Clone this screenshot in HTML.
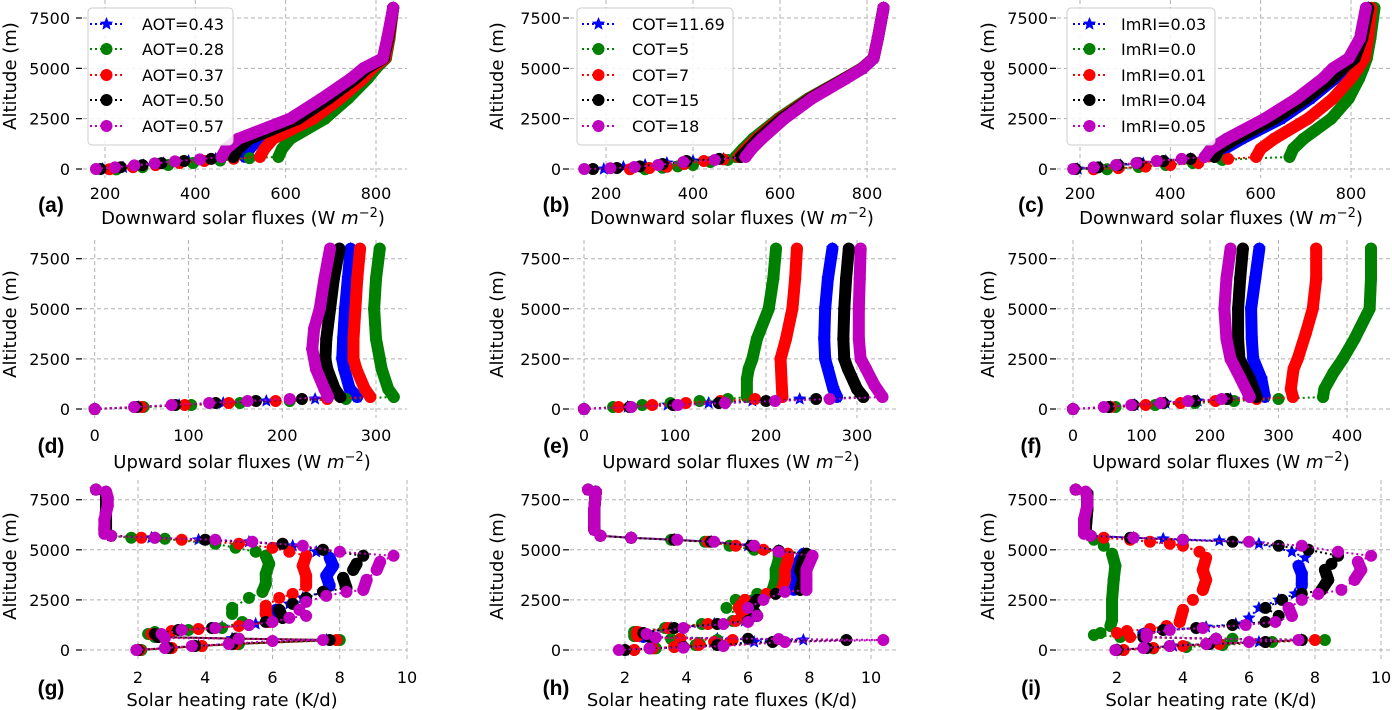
<!DOCTYPE html>
<html><head><meta charset="utf-8">
<style>
html,body{margin:0;padding:0;background:#fff;}
svg{display:block;font-family:"DejaVu Sans","Liberation Sans",sans-serif;}
</style></head>
<body>
<svg id="fig" width="1392" height="710" viewBox="0 0 1392 710" xmlns="http://www.w3.org/2000/svg"></svg>
<script>
// ---------- data (x value, altitude m) ----------
const legendA = ['AOT=0.43','AOT=0.28','AOT=0.37','AOT=0.50','AOT=0.57'];
const legendB = ['COT=11.69','COT=5','COT=7','COT=15','COT=18'];
const legendC = ['ImRI=0.03','ImRI=0.0','ImRI=0.01','ImRI=0.04','ImRI=0.05'];
const fluxTicks = [200,400,600,800];
const upTicksDE = [0,100,200,300];
const upTicksF = [0,100,200,300,400];
const heatTicks = [2,4,6,8,10];
const altTicks = [0,2500,5000,7500];

const a_blue=[[195,0],[240,80],[285,190],[330,290],[385,400],[445,500],[510,600],[520,1000],[540,1500],[643,2500],[705,3500],[762,4500],[785,5000],[818,5500],[828,6500],[838,8000]];
const a_green=[[225,-20],[283,90],[340,200],[395,300],[455,420],[520,540],[584,600],[592,1000],[610,1500],[687,2500],[738,3500],[782,4500],[800,5000],[822,5500],[830,6500],[838,8000]];
const a_red=[[210,-10],[262,90],[312,190],[365,300],[420,400],[485,510],[543,600],[553,1000],[572,1500],[661,2500],[720,3500],[772,4500],[792,5000],[820,5500],[829,6500],[838,8000]];
const a_black=[[190,0],[235,90],[283,190],[325,290],[375,400],[435,500],[484,600],[495,1000],[520,1500],[628,2500],[695,3500],[755,4500],[780,5000],[817,5500],[827,6500],[838,8000]];
const a_mag=[[180,0],[222,80],[265,180],[310,280],[355,380],[410,480],[458,600],[468,1000],[495,1500],[610,2500],[680,3500],[745,4500],[772,5000],[815,5500],[825,6500],[838,8000]];

const b_blue=[[195,0],[240,100],[290,200],[340,300],[400,400],[470,500],[505,600],[525,1000],[548,1500],[603,2500],[670,3500],[750,4500],[790,5000],[815,5500],[825,6500],[838,8000]];
const b_green=[[290,-10],[330,60],[365,130],[400,200],[440,350],[480,450],[498,600],[515,1000],[538,1500],[596,2500],[665,3500],[748,4500],[788,5000],[815,5500],[825,6500],[838,8000]];
const b_red=[[255,-10],[300,50],[340,110],[380,250],[425,400],[470,480],[505,600],[522,1000],[545,1500],[600,2500],[668,3500],[749,4500],[789,5000],[815,5500],[825,6500],[838,8000]];
const b_black=[[170,0],[225,50],[278,130],[330,250],[385,400],[460,500],[510,600],[528,1000],[550,1500],[604,2500],[670,3500],[750,4500],[790,5000],[815,5500],[825,6500],[838,8000]];
const b_mag=[[150,0],[210,40],[265,100],[320,200],[378,350],[450,450],[521,600],[535,1000],[558,1500],[610,2500],[673,3500],[752,4500],[790,5000],[815,5500],[825,6500],[838,8000]];

const c_blue=[[195,0],[245,80],[290,190],[340,290],[390,400],[445,500],[512,600],[520,1000],[558,1500],[645,2500],[710,3500],[765,4500],[785,5000],[810,5500],[827,6500],[838,8000]];
const c_green=[[190,0],[260,-10],[330,100],[390,200],[450,300],[515,450],[664,600],[672,1000],[695,1500],[756,2500],[795,3500],[818,4500],[827,5000],[835,5500],[843,6500],[852,8000]];
const c_red=[[230,-10],[285,40],[345,120],[400,200],[462,300],[528,500],[590,600],[600,1000],[630,1500],[705,2500],[760,3500],[800,4500],[816,5000],[830,5500],[838,6500],[845,8000]];
const c_black=[[190,0],[240,80],[285,190],[330,290],[385,400],[445,500],[498,600],[508,1000],[545,1500],[631,2500],[700,3500],[758,4500],[782,5000],[808,5500],[825,6500],[838,8000]];
const c_mag=[[185,0],[230,80],[280,200],[325,300],[370,400],[425,500],[476,600],[490,1000],[525,1500],[609,2500],[680,3500],[738,4500],[760,5000],[795,5500],[820,6500],[833,8000]];

const d_blue=[[0,0],[47,100],[90,200],[137,300],[183,400],[235,500],[280,600],[272,1000],[266,2000],[264,2500],[265,3500],[267,5000],[270,6500],[273,8000]];
const d_green=[[0,0],[52,100],[103,200],[155,300],[208,400],[268,500],[319,600],[313,1000],[306,2000],[304,2500],[300,3500],[298,5000],[300,6500],[304,8000]];
const d_red=[[0,0],[50,100],[96,200],[143,300],[193,400],[248,500],[294,600],[288,1000],[279,2000],[276,2500],[276,3500],[278,5000],[280,6500],[283,8000]];
const d_black=[[0,0],[45,100],[86,200],[129,300],[172,400],[221,500],[262,600],[256,1000],[248,2000],[246,2500],[247,3500],[251,5000],[255,6500],[261,8000]];
const d_mag=[[0,0],[42,100],[82,200],[122,300],[163,400],[208,500],[249,600],[245,1000],[236,2000],[232,3000],[234,4000],[240,5000],[245,6500],[251,8000]];

const e_blue=[[0,0],[48,100],[92,200],[137,300],[185,400],[237,500],[278,600],[274,1000],[268,2000],[265,2500],[264,3500],[265,5000],[268,6500],[273,8000]];
const e_green=[[0,0],[32,100],[64,200],[95,300],[127,400],[158,500],[179,600],[179,1500],[181,2000],[185,2500],[190,3500],[203,5000],[208,6500],[211,8000]];
const e_red=[[0,0],[38,100],[75,200],[112,300],[150,400],[188,500],[218,600],[217,1500],[216,2500],[222,3500],[229,5000],[232,6500],[234,8000]];
const e_black=[[0,0],[50,100],[98,200],[148,300],[200,400],[255,500],[307,600],[300,1000],[290,2000],[286,2500],[285,3500],[286,5000],[288,6500],[291,8000]];
const e_mag=[[0,0],[52,100],[103,200],[155,300],[210,400],[270,500],[328,600],[319,1200],[310,2000],[304,2500],[302,3500],[302,5000],[303,6500],[304,8000]];

const f_blue=[[0,0],[55,100],[90,200],[135,300],[182,400],[230,500],[280,600],[275,1500],[263,2500],[261,3500],[260,5000],[266,6500],[272,8000]];
const f_green=[[0,0],[62,100],[120,200],[178,300],[235,400],[300,500],[365,600],[367,1000],[380,1800],[394,2500],[411,3500],[433,5000],[435,6500],[435,8000]];
const f_red=[[0,0],[55,100],[106,200],[157,300],[208,400],[268,500],[321,600],[318,1000],[322,2000],[328,2500],[340,3800],[350,5000],[355,6500],[355,8000]];
const f_black=[[0,0],[52,100],[88,200],[132,300],[178,400],[225,500],[268,600],[258,1500],[243,2500],[241,3500],[241,5000],[244,6500],[248,8000]];
const f_mag=[[0,0],[45,100],[85,200],[128,300],[168,400],[217,500],[258,600],[245,1500],[230,2500],[224,3500],[221,5000],[224,6500],[230,8000]];

const g_blue=[[2.0,0],[2.9,100],[3.8,200],[4.8,300],[7.6,500],[4.8,570],[2.6,650],[2.5,800],[3.3,1000],[4.5,1150],[5.5,1300],[6.0,1600],[6.1,2000],[6.5,2300],[6.9,2600],[7.5,2900],[7.7,3200],[7.6,3700],[7.8,4200],[7.7,4600],[7.3,4900],[6.6,5200],[5.3,5400],[3.8,5500],[2.4,5600],[1.2,5700],[1.0,6000],[1.05,7000],[1.05,7800],[0.75,8000]];
const g_green=[[2.1,0],[3.0,100],[3.9,200],[5.0,300],[8.0,500],[5.0,570],[2.5,650],[2.3,800],[2.5,900],[3.5,1000],[4.5,1100],[5.1,1400],[4.8,1800],[4.8,2100],[5.3,2600],[5.7,2900],[5.8,3300],[5.8,3800],[5.9,4300],[5.8,4700],[5.5,4900],[4.9,5100],[4.3,5300],[2.8,5550],[1.8,5600],[1.2,5700],[1.0,6000],[1.05,7000],[1.05,7800],[0.75,8000]];
const g_red=[[2.05,0],[3.0,100],[3.9,200],[4.9,300],[7.9,500],[4.9,570],[2.6,650],[2.4,800],[3.0,950],[3.8,1050],[5.0,1200],[5.9,1400],[5.8,1800],[5.8,2200],[6.2,2600],[6.6,2800],[7.0,3200],[7.0,3700],[6.9,4200],[7.0,4700],[6.5,4900],[6.0,5100],[5.0,5300],[3.3,5500],[2.1,5600],[1.2,5700],[1.0,6000],[1.05,7000],[1.05,7800],[0.75,8000]];
const g_black=[[2.0,0],[2.9,100],[3.7,200],[4.8,300],[7.7,500],[4.9,570],[2.6,650],[2.5,800],[3.2,1000],[4.2,1100],[5.3,1250],[5.8,1400],[6.3,1600],[6.2,2000],[6.6,2300],[7.0,2600],[7.5,2900],[8.2,3100],[8.1,3600],[8.4,4000],[8.5,4300],[8.7,4700],[7.5,5000],[6.3,5300],[4.0,5500],[2.5,5600],[1.2,5700],[1.05,6000],[1.05,7000],[1.05,7800],[0.75,8000]];
const g_mag=[[1.95,0],[2.8,100],[3.6,200],[4.7,300],[6.0,450],[7.5,500],[5.0,560],[2.8,600],[2.7,800],[3.3,1000],[4.3,1100],[5.3,1250],[6.0,1400],[6.5,1600],[7.0,1700],[6.8,2000],[7.0,2400],[7.6,2700],[8.2,2900],[8.7,3000],[8.8,3500],[9.1,4000],[9.2,4400],[9.6,4700],[8.0,4900],[6.9,5200],[5.4,5400],[4.3,5500],[2.5,5600],[1.2,5700],[1.0,5800],[1.0,6500],[1.1,7200],[1.1,7600],[1.05,7900],[0.75,8000]];

const h_blue=[[2.0,0],[2.9,80],[3.9,150],[5.0,250],[6.2,400],[7.8,500],[5.0,560],[2.6,650],[2.5,850],[3.5,1100],[4.9,1300],[5.9,1450],[6.2,1700],[6.0,2100],[6.2,2500],[6.8,2800],[7.5,3000],[7.6,3500],[7.5,4000],[7.7,4500],[7.8,4800],[7.0,4950],[6.0,5200],[4.8,5400],[3.6,5500],[2.2,5600],[1.2,5700],[1.0,6000],[1.0,7000],[1.05,7900],[0.8,8000]];
const h_green=[[2.3,0],[3.0,80],[3.6,150],[4.3,250],[4.4,350],[5.0,500],[3.5,550],[2.3,700],[2.3,900],[3.3,1100],[4.5,1300],[5.5,1450],[5.8,1600],[5.3,2100],[5.6,2500],[6.3,2800],[6.8,3000],[6.9,3500],[6.9,4000],[7.0,4500],[7.0,4800],[6.2,5000],[5.4,5200],[4.6,5400],[3.5,5500],[2.2,5600],[1.2,5700],[1.0,6000],[1.0,7000],[1.05,7900],[0.8,8000]];
const h_red=[[2.3,0],[2.9,80],[3.6,150],[4.4,250],[4.9,400],[5.5,500],[3.8,560],[2.4,700],[2.4,900],[3.4,1100],[4.7,1300],[5.6,1450],[5.9,1700],[5.7,2100],[5.9,2500],[6.6,2800],[7.1,3000],[7.2,3500],[7.2,4000],[7.3,4500],[7.3,4800],[6.5,5000],[5.6,5200],[4.7,5400],[3.6,5500],[2.2,5600],[1.2,5700],[1.0,6000],[1.0,7000],[1.05,7900],[0.8,8000]];
const h_black=[[2.0,0],[2.8,80],[3.9,150],[5.0,250],[6.8,400],[9.2,500],[6.0,560],[2.8,650],[2.6,850],[3.6,1100],[5.0,1300],[6.0,1450],[6.3,1700],[6.1,2100],[6.3,2500],[6.9,2800],[7.7,3000],[7.8,3500],[7.7,4000],[7.8,4500],[7.9,4800],[7.0,4950],[6.1,5200],[4.8,5400],[3.6,5500],[2.2,5600],[1.2,5700],[1.0,6000],[1.0,7000],[1.05,7900],[0.8,8000]];
const h_mag=[[1.8,0],[2.8,80],[3.9,120],[5.2,200],[7.2,400],[10.4,500],[7.0,550],[3.0,620],[2.7,800],[3.9,1100],[5.2,1300],[6.0,1400],[6.3,1700],[6.0,2100],[6.5,2500],[7.2,2900],[7.9,3000],[7.9,3500],[7.9,4000],[8.1,4700],[7.0,4900],[6.2,5200],[4.9,5400],[3.7,5500],[2.2,5600],[1.2,5700],[1.0,6000],[1.0,7000],[1.05,7900],[0.8,8000]];

const i_blue=[[2.0,0],[2.9,100],[3.7,200],[4.8,300],[6.3,400],[7.6,500],[5.0,560],[2.8,650],[2.8,800],[3.6,1000],[4.7,1150],[5.6,1300],[6.0,1600],[6.3,2100],[6.9,2500],[7.4,2800],[7.6,3200],[7.6,3800],[7.5,4200],[7.7,4600],[7.3,4900],[6.3,5300],[5.1,5450],[3.4,5550],[2.5,5600],[1.2,5700],[1.05,6000],[1.1,7000],[1.1,7800],[0.75,8000]];
const i_green=[[2.2,0],[3.1,80],[4.1,150],[5.2,250],[6.7,400],[8.3,500],[5.5,560],[2.1,650],[1.3,750],[1.5,850],[1.8,1200],[1.85,1500],[1.85,2500],[1.9,3500],[1.95,4200],[1.85,4800],[1.6,5200],[1.3,5500],[1.2,5700],[1.05,6000],[1.1,7000],[1.1,7800],[0.75,8000]];
const i_red=[[2.2,0],[3.1,100],[4.0,200],[5.1,300],[6.5,400],[8.0,500],[5.0,560],[2.4,650],[2.0,850],[2.3,950],[3.0,1050],[3.5,1200],[3.9,1400],[4.0,2000],[4.3,2500],[4.6,3000],[4.7,3500],[4.6,4000],[4.7,4600],[4.5,4900],[4.0,5200],[3.6,5300],[3.0,5400],[2.4,5500],[1.6,5600],[1.2,5700],[1.05,6000],[1.1,7000],[1.1,7800],[0.75,8000]];
const i_black=[[2.0,0],[2.9,100],[3.6,200],[4.8,300],[6.5,400],[7.6,500],[5.0,560],[2.8,650],[2.9,800],[3.4,1000],[4.4,1100],[5.5,1250],[6.5,1400],[6.9,1700],[6.5,2100],[7.0,2500],[7.6,2800],[8.2,3000],[8.4,3500],[8.3,4000],[8.5,4300],[8.7,4700],[7.8,5000],[6.9,5200],[5.5,5400],[4.0,5500],[2.4,5600],[1.2,5700],[1.05,6000],[1.1,7000],[1.1,7800],[0.75,8000]];
const i_mag=[[1.95,0],[2.8,100],[3.6,200],[4.7,300],[6.0,400],[7.5,500],[5.0,560],[2.9,650],[2.9,800],[3.6,1000],[4.6,1100],[5.9,1250],[6.8,1400],[7.3,1700],[7.2,2100],[7.6,2500],[8.1,2800],[8.8,3000],[9.2,3500],[9.4,4000],[9.3,4400],[9.7,4700],[8.7,4900],[7.6,5200],[6.0,5400],[4.0,5500],[2.5,5600],[1.2,5700],[1.0,5800],[1.0,6500],[1.1,7200],[1.1,7600],[1.05,7900],[0.75,8000]];

// ---------- layout ----------
const colors=['#0000ff','#008000','#ff0000','#000000','#bf00bf'];
const seriesNames=['blue','green','red','black','magenta'];
const rows=[{y0:169,y7500:18,top:0,bot:178,tickY:193,labY:218,letY:205,ylabY:76},
            {y0:409,y7500:258.7,top:240,bot:418,tickY:435,labY:462,letY:446,ylabY:324},
            {y0:650,y7500:499.7,top:480,bot:660,tickY:677,labY:700,letY:688,ylabY:566}];
const cols=[{left:83,right:407,tickR:70,letX:51,ylabX:10},
            {left:570,right:897,tickR:561,letX:556,ylabX:497},
            {left:1057,right:1392,tickR:1048,letX:1031,ylabX:988}];
const panels=[
 {id:'a',r:0,c:0,v0:200,p0:105,v1:800,p1:376,ticks:fluxTicks,label:'Downward solar fluxes',unit:true,labX:243,series:[a_blue,a_green,a_red,a_black,a_mag],legend:legendA,kind:'flux'},
 {id:'b',r:0,c:1,v0:200,p0:606,v1:800,p1:867,ticks:fluxTicks,label:'Downward solar fluxes',unit:true,labX:732,series:[b_blue,b_green,b_red,b_black,b_mag],legend:legendB,kind:'flux'},
 {id:'c',r:0,c:2,v0:200,p0:1080,v1:800,p1:1351,ticks:fluxTicks,label:'Downward solar fluxes',unit:true,labX:1221,series:[c_blue,c_green,c_red,c_black,c_mag],legend:legendC,kind:'flux'},
 {id:'d',r:1,c:0,v0:0,p0:94.7,v1:300,p1:376,ticks:upTicksDE,label:'Upward solar fluxes',unit:true,labX:242,series:[d_blue,d_green,d_red,d_black,d_mag],kind:'flux'},
 {id:'e',r:1,c:1,v0:0,p0:584,v1:300,p1:857,ticks:upTicksDE,label:'Upward solar fluxes',unit:true,labX:731,series:[e_blue,e_green,e_red,e_black,e_mag],kind:'flux'},
 {id:'f',r:1,c:2,v0:0,p0:1073,v1:400,p1:1347,ticks:upTicksF,label:'Upward solar fluxes',unit:true,labX:1221,series:[f_blue,f_green,f_red,f_black,f_mag],kind:'flux'},
 {id:'g',r:2,c:0,v0:2,p0:138,v1:10,p1:407,ticks:heatTicks,label:'Solar heating rate (K/d)',unit:false,labX:232,series:[g_blue,g_green,g_red,g_black,g_mag],kind:'heat'},
 {id:'h',r:2,c:1,v0:2,p0:625,v1:10,p1:871,ticks:heatTicks,label:'Solar heating rate fluxes (K/d)',unit:false,labX:722,series:[h_blue,h_green,h_red,h_black,h_mag],kind:'heat'},
 {id:'i',r:2,c:2,v0:2,p0:1117,v1:10,p1:1381,ticks:heatTicks,label:'Solar heating rate (K/d)',unit:false,labX:1211,series:[i_blue,i_green,i_red,i_black,i_mag],kind:'heat'}
];
const legendBoxes=[{x:88,w:145,lx:90,tx:142},{x:577,w:156,lx:582,tx:632},{x:1067,w:148,lx:1073,tx:1121}];

const NS='http://www.w3.org/2000/svg';
const svg=document.getElementById('fig');
function mk(tag,attrs,parent){const e=document.createElementNS(NS,tag);for(const k in attrs)e.setAttribute(k,attrs[k]);(parent||svg).appendChild(e);return e;}
function starPath(cx,cy,R){let d='';const r=R*0.45;for(let k=0;k<10;k++){const rad=k%2?r:R;const a=-Math.PI/2+k*Math.PI/5;d+=(k?'L':'M')+(cx+rad*Math.cos(a)).toFixed(1)+','+(cy+rad*Math.sin(a)).toFixed(1);}return d+'Z';}

panels.forEach(p=>{
  const R=rows[p.r],C=cols[p.c];
  const xs=v=>p.p0+(v-p.v0)*(p.p1-p.p0)/(p.v1-p.v0);
  const ys=a=>R.y0+(a)*(R.y7500-R.y0)/7500;
  const g=mk('g',{});
  
  
  const grid=mk('g',{stroke:'#b0b0b0','stroke-width':1,'stroke-dasharray':'4,3'},g);
  
  
  altTicks.forEach(t=>{mk('line',{x1:C.left,x2:C.right,y1:ys(t),y2:ys(t)},grid);});
  p.ticks.forEach(t=>{mk('line',{x1:xs(t),x2:xs(t),y1:R.top,y2:R.bot},grid);});
  const yax=mk('g',{},g);
  
  
  altTicks.forEach(t=>{
    mk('line',{x1:C.left-7,x2:C.left-1,y1:ys(t),y2:ys(t),stroke:'#000','stroke-width':1.2},yax);
    const tx=mk('text',{x:C.tickR,y:ys(t)+6,'text-anchor':'end','font-size':16,fill:'#000'},yax);tx.textContent=t;
  });
  const yl=mk('text',{x:C.ylabX,y:R.ylabY,'text-anchor':'middle','font-size':18,transform:`rotate(-90 ${C.ylabX} ${R.ylabY})`,dy:6},g);
  yl.textContent='Altitude (m)';
  
  
  const xax=mk('g',{},g);
  
  
  p.ticks.forEach(t=>{const tx=mk('text',{x:xs(t),y:R.tickY+6,'text-anchor':'middle','font-size':16},xax);tx.textContent=t;});
  const xl=mk('text',{x:p.labX,y:R.labY+6,'text-anchor':'middle','font-size':18},g);
  
  
  if(p.unit){xl.textContent=p.label+' (W ';const t2=mk('tspan',{'font-style':'italic'},xl);t2.textContent='m';const t3=mk('tspan',{dy:-7,'font-size':13},xl);t3.textContent='−2';const t4=mk('tspan',{dy:7},xl);t4.textContent=')';}
  else xl.textContent=p.label;
  const lt=mk('text',{x:C.letX,y:R.letY+7,'text-anchor':'middle','font-size':21,'font-weight':'bold','font-family':'Liberation Sans, sans-serif'},g);
  lt.textContent='('+p.id+')';
  
  
  p.series.forEach((s,si)=>{
    const col=colors[si];
    const sg=mk('g',{},g);
    
    
    const pts=s.map(q=>[xs(q[0]),ys(q[1])]);
    for(let k=0;k<pts.length-1;k++){
      const A=pts[k],B=pts[k+1];
      let dense;
      if(p.kind==='flux') dense=s[k][1]>=590&&s[k+1][1]>=590;
      else dense=Math.abs(B[1]-A[1])>=1.3*Math.abs(B[0]-A[0]);
      if(dense) mk('line',{x1:A[0],y1:A[1],x2:B[0],y2:B[1],stroke:col,'stroke-width':12,'stroke-linecap':'round'},sg);
    }
    mk('polyline',{points:pts.map(q=>q[0].toFixed(1)+','+q[1].toFixed(1)).join(' '),fill:'none',stroke:col,'stroke-width':2,'stroke-dasharray':'2,3'},sg);
    pts.forEach(q=>{
      if(si===0){const m=mk('path',{d:starPath(q[0],q[1],7),fill:col},sg);}
      else{const m=mk('circle',{cx:q[0],cy:q[1],r:6,fill:col},sg);}
    });
  });
  if(p.legend){
    const L=legendBoxes[p.c];
    const lg=mk('g',{},g);
    
    
    mk('rect',{x:L.x,y:8,width:L.w,height:137,rx:4,fill:'#fff','fill-opacity':0.85,stroke:'#cccccc','stroke-width':1},lg);
    const ey=[24,49,75,100,126];
    p.legend.forEach((name,k)=>{
      const eg=mk('g',{},lg);
      
      
      mk('line',{x1:L.lx,x2:L.lx+33,y1:ey[k],y2:ey[k],stroke:colors[k],'stroke-width':2,'stroke-dasharray':'2,3'},eg);
      const mx=L.lx+16.5;
      if(k===0) mk('path',{d:starPath(mx,ey[k],7),fill:colors[k]},eg);
      else mk('circle',{cx:mx,cy:ey[k],r:6,fill:colors[k]},eg);
      const t=mk('text',{x:L.tx,y:ey[k]+6,'font-size':16},eg);t.textContent=name;
    });
  }
});
</script>
</body></html>
